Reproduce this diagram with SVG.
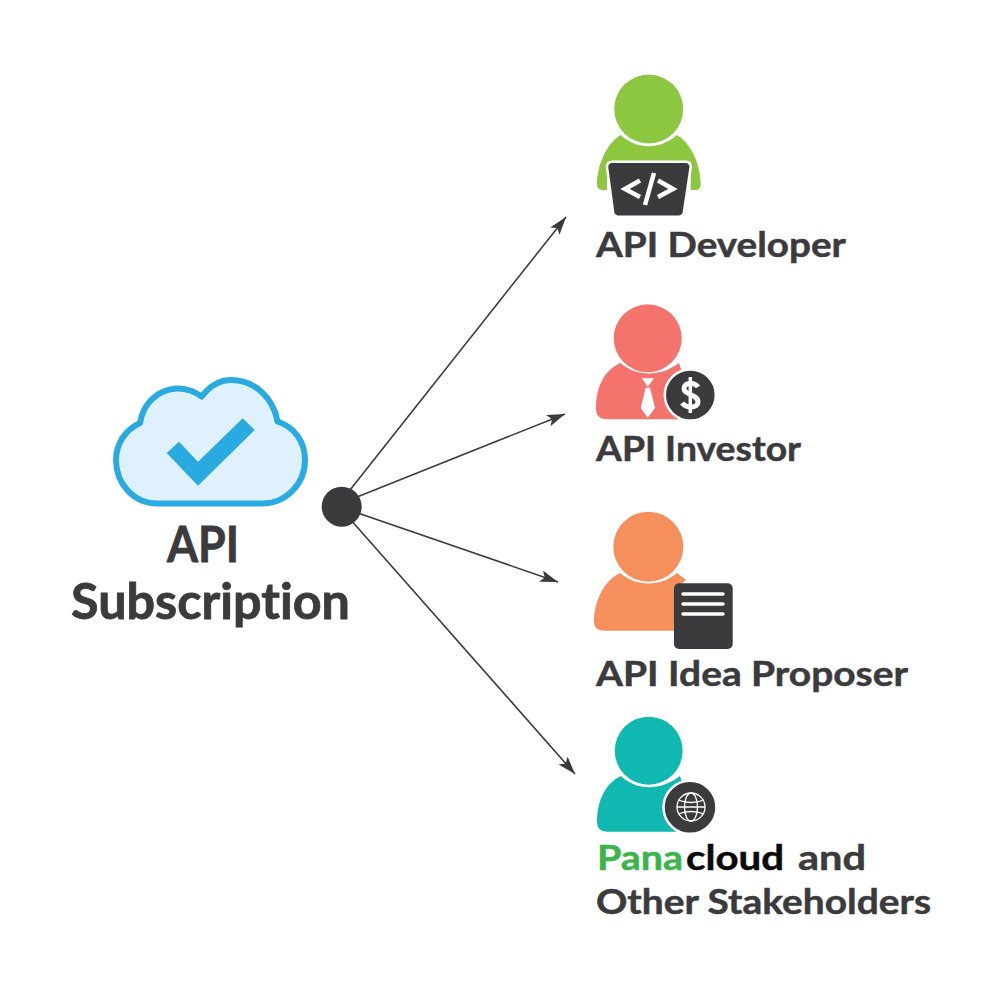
<svg xmlns="http://www.w3.org/2000/svg" width="1000" height="1000" viewBox="0 0 1000 1000">
<style>
text{font-family:"Lato","Liberation Sans",sans-serif;font-weight:700;fill:#3b3b3d;stroke:#3b3b3d;stroke-width:.5px;font-size:35px;font-variant-ligatures:none}
.big{font-size:50px;stroke-width:.8px}
.dark{fill:#3b3b3d}
.halo{stroke:#fff;stroke-width:2.5}
.ico{fill:none;stroke:#fff;stroke-width:2;stroke-linecap:round}
</style>
<defs>
<marker id="arr" markerUnits="userSpaceOnUse" markerWidth="20" markerHeight="14" refX="18" refY="6" orient="auto"><path d="M0 0L18 6L0 12L4 6Z" fill="#3b3b3d"/></marker>
</defs>
<rect width="1000" height="1000" fill="#fff"/>
<g id="connectors" fill="none" stroke="#3b3b3d" stroke-width="1.6">
<line x1="350" y1="490" x2="566" y2="217" marker-end="url(#arr)"/>
<line x1="352" y1="499" x2="565" y2="414" marker-end="url(#arr)"/>
<line x1="352" y1="511" x2="558" y2="582" marker-end="url(#arr)"/>
<line x1="350" y1="519" x2="575" y2="774" marker-end="url(#arr)"/>
</g>
<g id="hub"><circle class="dark" cx="341.7" cy="506.7" r="20"/></g>
<g id="api-subscription">
<path d="M157 503.5H262C286 503.5 305 484 305 460C305 441 294 427 277.500 421.500C273 397 254 380 231 380C219 380 209 387 201.700 396.500C194 391 185 388 176 388.500C157 390 143 404 140 423C125 430 116 444 116 460C116 484 134 503.500 157 503.500Z" fill="#dff1fc" stroke="#29abe2" stroke-width="6" stroke-linejoin="round"/>
<path d="M166.700 453L179 441.700L198 461.700L242.700 418.300L254.700 430L198 485.700Z" fill="#29abe2"/>
<text x="167" y="561.700" class="big" textLength="72" lengthAdjust="spacingAndGlyphs">API</text>
<text x="71" y="619" class="big" textLength="279" lengthAdjust="spacingAndGlyphs">Subscription</text>
</g>
<g id="api-developer">
<path d="M620.700 135C607 143 597 165 597 184Q597 190 603 190H607V161.700H690.700V190H695Q700.700 190 700.700 184C700.700 165 691 143 676.700 135C660 150 637 150 620.700 135Z" fill="#8dc63f"/>
<circle cx="648.700" cy="109" r="34.500" fill="#8dc63f"/>
<path d="M612 161.700H686A5 5 0 0 1 690.700 167L684 211.500A5 5 0 0 1 679 216.700H618A5 5 0 0 1 613 211.500L607 167A5 5 0 0 1 612 161.700Z" class="dark halo"/>
<path d="M640 180.500L625 189L640 197M658 180.500L673 189L658 197" fill="none" stroke="#fff" stroke-width="4.500"/>
<path d="M654 173L645 205" fill="none" stroke="#fff" stroke-width="4.500"/>
<text x="596" y="257" textLength="250" lengthAdjust="spacingAndGlyphs">API Developer</text>
</g>
<g id="api-investor">
<path d="M620.500 363C606 369 596 385 596 408Q596 419.300 607 419.300H680L690 395L679 363C660 377 637 377 620.500 363Z" fill="#f4736d"/>
<circle cx="647.700" cy="338.300" r="34" fill="#f4736d"/>
<path d="M641.700 378.300H654L647.800 386.700Z" fill="#fff"/>
<path d="M645.700 387.700H650L655 408L647.700 417.700L640.700 408Z" fill="#fff"/>
<circle cx="690.300" cy="395" r="25.500" class="dark halo"/>
<path d="M698 387C695 382 684 382 684 388.500C684 395 698 394 698 402C698 408 687 409 682 403" fill="none" stroke="#fff" stroke-width="5"/>
<path d="M690.300 377V413" fill="none" stroke="#fff" stroke-width="3.500"/>
<text x="596" y="460.500" textLength="205" lengthAdjust="spacingAndGlyphs">API Investor</text>
</g>
<g id="api-idea-proposer">
<path d="M620 573C605 580 594 600 594 622Q594 630.700 605 630.700H680V585L686 580L677 573C660 587 637 587 620 573Z" fill="#f58f5c"/>
<circle cx="648.300" cy="546.700" r="35" fill="#f58f5c"/>
<rect x="674" y="583.300" width="58.700" height="65.700" rx="5" class="dark"/>
<path d="M683 594H723M683 604H723M683 614H723" fill="none" stroke="#fff" stroke-width="3.500" stroke-linecap="round"/>
<text x="596" y="685.500" textLength="312" lengthAdjust="spacingAndGlyphs">API Idea Proposer</text>
</g>
<g id="panacloud-stakeholders">
<path d="M621 776C606 783 597 800 597 822Q597 831.700 607 831.700H682L690 807L680 776C660 791 637 791 621 776Z" fill="#0fb9b1"/>
<circle cx="648.700" cy="750.700" r="34" fill="#0fb9b1"/>
<circle cx="690" cy="807.300" r="26.500" class="dark halo"/>
<g fill="none" stroke="#fff" stroke-width="1.300">
<circle cx="691" cy="807" r="14"/>
<ellipse cx="691" cy="807" rx="6.500" ry="14"/>
<path d="M678 800Q691 805 704 800M678 814Q691 809 704 814M677 807H705"/>
</g>
<text x="597" y="869.800" textLength="86" lengthAdjust="spacingAndGlyphs" style="fill:#39b54a;stroke:#39b54a">Pana</text>
<text x="686" y="869.800" textLength="98" lengthAdjust="spacingAndGlyphs" style="fill:#0a0a0a;stroke:#0a0a0a">cloud</text>
<text x="798" y="869.800" textLength="68" lengthAdjust="spacingAndGlyphs">and</text>
<text x="596" y="913.500" textLength="335" lengthAdjust="spacingAndGlyphs">Other Stakeholders</text>
</g>
</svg>
